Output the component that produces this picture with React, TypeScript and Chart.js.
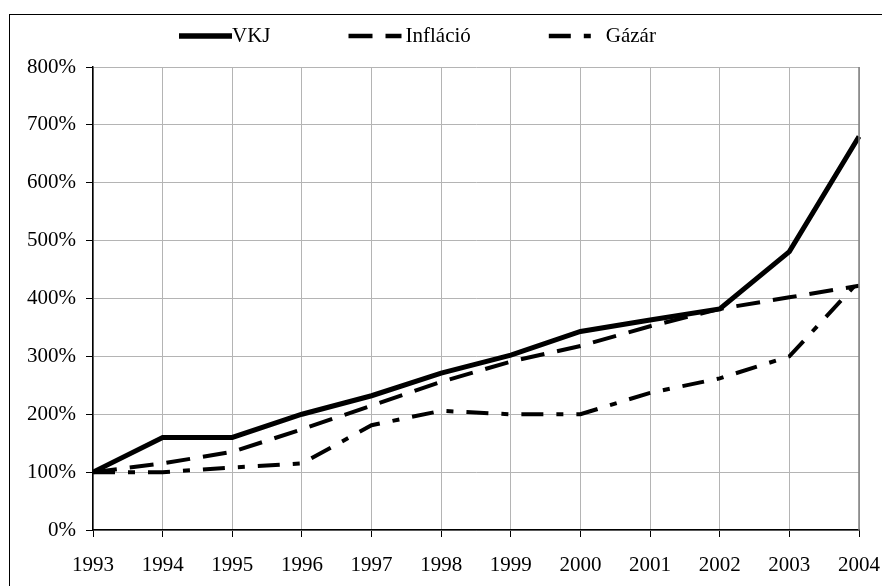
import React, { useEffect, useRef } from "react";
import { Chart, registerables } from "chart.js";

Chart.register(...registerables);

const years = ["1993","1994","1995","1996","1997","1998","1999","2000","2001","2002","2003","2004"];
const vkj = [100, 160, 160, 200, 232, 271, 302, 343, 363, 382, 481, 680];
const inflacio = [100, 115, 135, 174, 215, 256, 291, 318, 352, 382, 402, 422];
const gazar = [100, 100, 108, 115, 181, 206, 200, 200, 237, 262, 300, 430];
const seriesLabels = ["VKJ", "Infláció", "Gázár"];

const FONT = "'Liberation Serif', 'Times New Roman', serif";

const framePlugin = {
  id: "frame",
  beforeDraw(chart: any) {
    const ctx = chart.ctx;
    ctx.save();
    ctx.fillStyle = "#ffffff";
    ctx.fillRect(0, 0, chart.width, chart.height);
    ctx.strokeStyle = "#000000";
    ctx.lineWidth = 1;
    ctx.strokeRect(9.5, 14.5, chart.width + 20, chart.height + 20);
    ctx.restore();
  },
  afterDatasetsDraw(chart: any) {
    const { right, top, bottom } = chart.chartArea;
    const ctx = chart.ctx;
    ctx.save();
    ctx.strokeStyle = "#808080";
    ctx.lineWidth = 1.5;
    ctx.beginPath();
    ctx.moveTo(right, top);
    ctx.lineTo(right, bottom);
    ctx.stroke();
    ctx.restore();
  },
};

const legendPlugin = {
  id: "customLegend",
  afterDraw(chart: any) {
    const ctx = chart.ctx;
    ctx.save();
    ctx.font = `21px ${FONT}`;
    ctx.textBaseline = "middle";
    ctx.fillStyle = "#000";
    const y = 36;
    const lineLen = 53;
    let x = 179;
    chart.data.datasets.forEach((ds: any) => {
      ctx.save();
      ctx.strokeStyle = "#000";
      ctx.lineWidth = ds.borderWidth + 0.5;
      ctx.lineCap = "butt";
      ctx.setLineDash(ds.borderDash || []);
      ctx.beginPath();
      ctx.moveTo(x, y);
      ctx.lineTo(x + lineLen, y);
      ctx.stroke();
      ctx.restore();
      const tx = x + lineLen + (ds.borderDash && ds.borderDash.length ? 4 : 0);
      ctx.fillText(ds.label, tx, y);
      x = tx + ctx.measureText(ds.label).width + 78;
    });
    ctx.restore();
  },
};

export default function App() {
  const ref = useRef<HTMLCanvasElement>(null);
  useEffect(() => {
    document.body.style.margin = "0";
    const canvas = ref.current!;
    const chart = new Chart(canvas, {
      type: "line",
      data: {
        labels: years,
        datasets: [
          {
            label: seriesLabels[0],
            data: vkj,
            borderColor: "#000",
            borderWidth: 5,
            pointRadius: 0,
            tension: 0,
            fill: false,
            borderJoinStyle: "miter",
          },
          {
            label: seriesLabels[1],
            data: inflacio,
            borderColor: "#000",
            borderWidth: 4,
            borderDash: [24, 13],
            pointRadius: 0,
            tension: 0,
            fill: false,
          },
          {
            label: seriesLabels[2],
            data: gazar,
            borderColor: "#000",
            borderWidth: 4,
            borderDash: [22, 13, 7, 13],
            pointRadius: 0,
            tension: 0,
            fill: false,
          },
        ],
      },
      options: {
        responsive: false,
        animation: false,
        layout: { padding: { left: 0, top: 67, right: 23, bottom: 0 } },
        plugins: { legend: { display: false }, tooltip: { enabled: false } },
        scales: {
          x: {
            offset: false,
            grid: { color: "#b4b4b4", lineWidth: 1, tickLength: 7, tickColor: "#000", drawTicks: true },
            border: { color: "#000", width: 1.5 },
            ticks: { color: "#000", font: { family: FONT, size: 21 }, padding: 16, maxRotation: 0, autoSkip: false },
            afterFit(scale: any) {
              scale.height = 56;
              scale.paddingLeft = 0;
              scale.paddingRight = 0;
            },
          },
          y: {
            min: 0,
            max: 800,
            grid: { color: "#b4b4b4", lineWidth: 1, tickLength: 7, tickColor: "#000" },
            border: { color: "#000", width: 1.5 },
            ticks: {
              stepSize: 100,
              color: "#000",
              font: { family: FONT, size: 21 },
              padding: 10,
              callback: (v: any) => `${v}%`,
            },
            afterFit(scale: any) {
              scale.width = 93;
              scale.paddingTop = 0;
              scale.paddingBottom = 0;
            },
          },
        },
      },
      plugins: [framePlugin, legendPlugin],
    });
    return () => chart.destroy();
  }, []);
  return <canvas ref={ref} width={882} height={586} style={{ display: "block" }} />;
}
